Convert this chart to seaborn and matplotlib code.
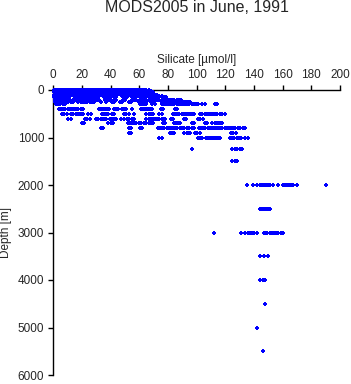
import pandas as pd
import matplotlib
matplotlib.use("Agg")
import matplotlib.pyplot as plt
import seaborn as sns

##### DATA: silicate [umol/l] observed at each standard depth level #####
si_0 = [0.5, 2, 3.5, 5, 6.5, 8, 9.5, 11, 12.5, 14, 15.5, 17, 18.5, 20, 21.5, 23, 24.5, 26, 27.5, 29,
        30.5, 32, 33.5, 35, 36.5, 38, 39.5, 41, 42.5, 44, 45.5, 47, 48.5, 50, 51.5, 53, 54.5, 56, 57.5,
        59, 60.5, 62, 63.5, 65, 66.5]
si_10 = [1, 2.5, 4, 6, 7.5, 9, 10.5, 12, 13.5, 15, 16.5, 18, 19.5, 21, 22.5, 24, 25.5, 27, 28.5, 30,
         31.5, 33, 34.5, 36, 37.5, 39, 40.5, 42, 43.5, 45, 46.5, 48, 49.5, 51, 52.5, 54, 55.5, 57, 58.5,
         60, 61.5, 63]
si_20 = [0.8, 2.3, 3.8, 5.3, 6.8, 8.3, 9.8, 11.3, 12.8, 14.3, 15.8, 17.3, 18.8, 20.3, 21.8, 23.3, 24.8,
         26.3, 27.8, 29.3, 30.8, 32.3, 33.8, 35.3, 36.8, 38.3, 39.8, 41.3, 42.8, 44.3, 45.8, 47.3, 48.8,
         50.3, 51.8, 53.3, 54.8, 56.3, 57.8, 59.3, 60.8, 62.3, 63.8, 65.3, 67.5]
si_30 = [1.2, 2.7, 4.2, 5.7, 7.2, 8.7, 10.2, 11.7, 13.2, 14.7, 16.2, 17.7, 19.2, 20.7, 22.2, 23.7, 25.2,
         26.7, 28.2, 29.7, 31.2, 32.7, 34.2, 35.7, 37.2, 38.7, 40.2, 41.7, 43.2, 44.7, 46.2, 47.7, 49.2,
         50.7, 52.2, 53.7, 55.2, 56.7, 58.2, 59.7, 61.2, 62.7, 64.2, 66, 68]
si_50 = [0.6, 2.1, 3.6, 5.1, 6.6, 8.1, 9.6, 11.1, 12.6, 14.1, 15.6, 17.1, 18.6, 20.1, 21.6, 23.1, 24.6,
         26.1, 27.6, 29.1, 30.6, 32.1, 33.6, 35.1, 36.6, 38.1, 39.6, 41.1, 42.6, 44.1, 45.6, 47.1, 48.6,
         50.1, 51.6, 53.1, 54.6, 56.1, 57.6, 59.1, 60.6, 62.1, 63.6, 65.1, 66.6, 68, 69.5]
si_75 = [1, 2.5, 4, 5.5, 7, 8.5, 10, 11.5, 13, 14.5, 16, 17.5, 19, 20.5, 22, 23.5, 25, 26.5, 28, 29.5,
         31, 32.5, 34, 35.5, 37, 38.5, 40, 41.5, 43, 44.5, 46, 47.5, 49, 50.5, 52, 53.5, 55, 56.5, 58,
         59.5, 61, 62.5, 64, 65.5, 67, 68.5, 70]
si_100 = [0.5, 2, 3.5, 5, 6.5, 8, 9.5, 11, 12.5, 14, 15.5, 17, 18.5, 20, 21.5, 23, 24.5, 26, 27.5, 29,
          30.5, 32, 33.5, 35, 36.5, 38, 39.5, 41, 42.5, 44, 47, 48.5, 50, 51.5, 53, 54.5, 56, 57.5, 59,
          60.5, 62, 63.5, 65, 66.5, 68, 69.5, 71, 72]
si_125 = [1, 2.5, 4, 5.5, 7, 8.5, 10, 11.5, 14.5, 16, 19, 20.5, 22, 23.5, 25, 26.5, 28, 29.5, 31, 36,
          37.5, 39, 40.5, 42, 43.5, 49, 50.5, 54.5, 56, 57.5, 61, 62.5, 64, 65.5, 67, 70, 74, 76]
si_150 = [0.5, 2, 3.5, 5, 6.5, 8, 9.5, 11, 15, 16.5, 18.5, 20, 21.5, 23, 24.5, 27, 28.5, 30, 31.5, 35.5,
          37, 38.5, 40, 42, 44, 48.5, 50, 51.5, 55, 56.5, 58, 60.5, 62, 63.5, 65, 66.5, 68, 71, 72.5,
          74, 75.5, 77, 78.5]
si_200 = [1, 2.5, 4, 5.5, 7, 8.5, 10, 11.5, 14, 15.5, 17, 19, 20.5, 22, 23.5, 25, 26.5, 28, 29.5, 31,
          32, 36, 37.5, 39, 40.5, 42, 43.5, 48.5, 50, 55, 56.5, 57.5, 60.5, 62, 63.5, 65, 66.5, 68,
          69.5, 71, 72.5, 74, 75.5, 77, 78.5, 80, 81.5, 83, 84.5, 86, 87.5, 89]
si_250 = [1.5, 3, 4.5, 6, 7.5, 9, 10.5, 12, 13.5, 17.5, 19, 20.5, 22, 23.5, 25.5, 27, 28.5, 33, 36.5,
          41, 42.5, 46.5, 48, 52.5, 54, 59.5, 61, 62.5, 64, 65, 68.5, 70, 75.5, 77, 78.5, 80, 81.5, 83,
          84.5, 86, 87.5, 91, 92.5, 94, 95.5]
si_300 = [2, 3.5, 5, 6.5, 8, 60.5, 62, 63.5, 65, 69, 71, 75.5, 77, 78.5, 80, 81.5, 83, 84.5, 86, 87.5,
          89, 90.5, 92, 93.5, 95, 96.5, 98, 99.5, 101, 104, 105.5, 113, 114.5]
si_400 = [4, 5.5, 7, 8.5, 10, 11.5, 13, 14.5, 16, 17.5, 19, 20.5, 32, 33.5, 35, 36, 37.5, 39, 42, 43.5,
          45, 48, 49.5, 51, 55, 61, 62.5, 64, 65.5, 66.5, 68, 69, 75, 76.5, 85, 86.5]
si_500 = [6, 7.5, 9.5, 12.5, 14, 15.5, 17, 18.5, 20, 21, 24.5, 26.5, 34, 35.5, 37, 38.5, 41, 42.5, 49.5,
          51, 52.5, 56.5, 65, 66.5, 68, 69.5, 73.5, 75.5, 83.5, 85, 86.5, 88, 89.5, 91, 92.5, 94, 95.5,
          97, 98.5, 102.5, 104, 105.5, 107, 108.5, 110, 111.5, 113, 114.5, 116, 117.5, 119.5]
si_600 = [10.5, 12.5, 22, 23.5, 25.5, 30, 31.5, 33, 34.5, 36, 37, 39.5, 41, 42.5, 43.5, 47, 49, 51.5, 53,
          55, 56.5, 65, 66.5, 68, 69.5, 71, 72.5, 74, 75.5, 77, 78, 82, 83.5, 91, 92.5, 101, 102.5, 104.5]
si_700 = [20, 21.5, 38.5, 40, 41.5, 52, 53.5, 55, 56.5, 58, 59.5, 61, 63.5, 65, 66.5, 68, 69.5, 76.5, 78,
          84, 85.5, 87, 88.5, 96.5, 98, 106, 107.5, 111, 112.5, 113.5, 115, 116.5, 117.5]
si_800 = [33.5, 35, 52.5, 54.5, 60.5, 62, 73, 74.5, 76, 77.5, 79, 80.5, 82, 83.5, 85, 86.5, 88.5, 90,
          91.5, 93, 94.5, 97, 98.5, 101.5, 103, 104.5, 106, 108, 109.5, 111, 112, 113.5, 115, 116.5, 118,
          119.5, 121, 122.5, 124, 125.5, 127, 128.5, 130, 132, 133.5]
si_900 = [52.5, 54.5, 81.5, 83, 84.5, 91.5, 93, 94.5, 95.5, 99, 100.5, 102, 124, 125.5, 127.5]
si_1000 = [73.5, 75.5, 101, 102.5, 104, 106.5, 108, 109.5, 110.5, 112, 113.5, 115, 116, 123, 124.5, 126,
           128, 129.5, 131, 134, 136]
si_1250 = [97, 125, 126.5, 128, 130, 131.5]
si_1500 = [125, 126.5, 128]
si_2000 = [135, 139, 142, 144, 145.5, 147, 148.5, 150, 151.5, 153, 157, 160, 161.5, 163, 164.5, 166,
           167, 170, 190]
si_2500 = [144, 145.5, 147, 148.5, 150, 151.5]
si_3000 = [112, 131, 134, 135.5, 137, 138.5, 140, 142, 147, 148, 149, 151, 152.5, 154, 155.5, 157,
           158.5, 160]
si_3500 = [144, 147, 150]
si_4000 = [144, 146, 147.5]
si_4500 = [148]
si_5000 = [142]
si_5500 = [146]

levels = [
    (0, si_0), (10, si_10), (20, si_20), (30, si_30), (50, si_50), (75, si_75), (100, si_100),
    (125, si_125), (150, si_150), (200, si_200), (250, si_250), (300, si_300), (400, si_400),
    (500, si_500), (600, si_600), (700, si_700), (800, si_800), (900, si_900), (1000, si_1000),
    (1250, si_1250), (1500, si_1500), (2000, si_2000), (2500, si_2500), (3000, si_3000),
    (3500, si_3500), (4000, si_4000), (4500, si_4500), (5000, si_5000), (5500, si_5500),
]
df = pd.DataFrame([(d, v) for d, vals in levels for v in vals], columns=['depth', 'silicate'])

##### PLOT #####
sns.set_style('ticks')
plt.rcParams['font.family'] = ['Liberation Sans', 'DejaVu Sans']

W, H = 351, 384
fig = plt.figure(figsize=(W / 100, H / 100), dpi=100)
ax = fig.add_axes([53.3 / W, 1 - 375 / H, (340 - 53.3) / W, (375 - 90) / H])

sns.scatterplot(data=df, x='silicate', y='depth', ax=ax, color='#0000ff', marker='P',
                s=12, linewidth=0, clip_on=False, zorder=3)

ax.set_xlim(0, 200)
ax.set_ylim(6000, 0)
ax.set_xticks(range(0, 201, 20))
ax.set_yticks(range(0, 6001, 1000))
ax.xaxis.set_ticks_position('top')
ax.xaxis.set_label_position('top')

for side in ['right', 'bottom']:
    ax.spines[side].set_visible(False)
for side in ['left', 'top']:
    ax.spines[side].set_color('black')
    ax.spines[side].set_linewidth(1)

ax.tick_params(direction='out', length=3.5, width=1, color='black', labelsize=8.5, pad=3)
ax.set_xlabel('Silicate [µmol/l]', fontsize=8.5, labelpad=4)
ax.set_ylabel('Depth [m]', fontsize=8.5, labelpad=4)

fig.text(196.7 / W, 1 - 8 / H, 'MODS2005 in June, 1991', ha='center', va='center', fontsize=11.5)

fig.savefig('out.png', dpi=100, facecolor='white')
